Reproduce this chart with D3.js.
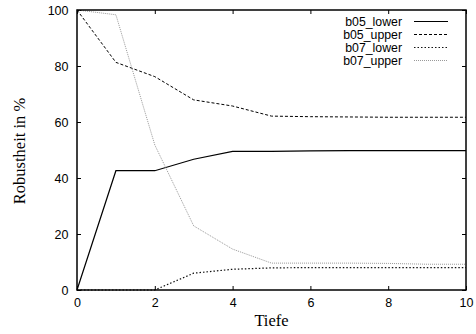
<!DOCTYPE html>
<html>
<head>
<meta charset="utf-8">
<script src="https://cdn.jsdelivr.net/npm/d3@7"></script>
<style>
  html, body { margin: 0; padding: 0; background: #fff; }
  svg { display: block; }
  .tick text { font-family: "Liberation Sans", Arial, sans-serif; font-size: 12.5px; fill: #000; }
  .axis-title { font-family: "Liberation Serif", "Times New Roman", serif; font-size: 16.5px; fill: #000; }
  .legend text { font-family: "Liberation Sans", Arial, sans-serif; font-size: 12.3px; fill: #000; }
</style>
</head>
<body>
<svg id="chart"></svg>
<script>
const depth = [0, 1, 2, 3, 4, 5, 6, 7, 8, 9, 10];
const b05Lower = [0, 42.6, 42.6, 46.7, 49.5, 49.5, 49.7, 49.8, 49.8, 49.8, 49.8];
const b05Upper = [100, 81.3, 76.2, 67.9, 65.7, 62.1, 61.9, 61.8, 61.7, 61.7, 61.7];
const b07Lower = [0, 0, 0, 6.0, 7.4, 7.9, 8.0, 8.0, 8.0, 8.0, 8.0];
const b07Upper = [100, 98.3, 51.8, 22.9, 14.6, 9.6, 9.6, 9.6, 9.5, 9.2, 9.2];
const xTicks = [0, 2, 4, 6, 8, 10];
const yTicks = [0, 20, 40, 60, 80, 100];

const series = [
  {name: 'b05_lower', values: b05Lower, color: '#000', dash: null, width: 1.2},
  {name: 'b05_upper', values: b05Upper, color: '#000', dash: '3,2', width: 1},
  {name: 'b07_lower', values: b07Lower, color: '#111', dash: '1.5,2', width: 1.2},
  {name: 'b07_upper', values: b07Upper, color: '#999', dash: '1,1', width: 1}
];

const width = 476;
const height = 334;
const margin = {top: 10, right: 10, bottom: 44, left: 77};

const svg = d3.select('#chart').attr('width', width).attr('height', height);

const x = d3.scaleLinear().domain([0, 10]).range([margin.left, width - margin.right]);
const y = d3.scaleLinear().domain([0, 100]).range([height - margin.bottom, margin.top]);

// inward ticks on all four sides, labels only bottom/left
svg.append('g')
  .attr('transform', `translate(0,${height - margin.bottom})`)
  .call(d3.axisBottom(x).tickValues(xTicks).tickSize(-4).tickPadding(8))
  .call(g => g.select('.domain').remove());
svg.append('g')
  .attr('transform', `translate(0,${margin.top})`)
  .call(d3.axisTop(x).tickValues(xTicks).tickSize(-4).tickFormat(''))
  .call(g => g.select('.domain').remove());
svg.append('g')
  .attr('transform', `translate(${margin.left},0)`)
  .call(d3.axisLeft(y).tickValues(yTicks).tickSize(-4).tickPadding(8.5))
  .call(g => g.select('.domain').remove());
svg.append('g')
  .attr('transform', `translate(${width - margin.right},0)`)
  .call(d3.axisRight(y).tickValues(yTicks).tickSize(-4).tickFormat(''))
  .call(g => g.select('.domain').remove());

svg.selectAll('.tick line').attr('stroke', '#000').attr('stroke-width', 1);

const line = d3.line()
  .x((d, i) => x(depth[i]))
  .y(d => y(d));

svg.append('g').selectAll('path').data(series).join('path')
  .attr('fill', 'none')
  .attr('stroke', d => d.color)
  .attr('stroke-width', d => d.width)
  .attr('stroke-dasharray', d => d.dash)
  .attr('d', d => line(d.values));

svg.append('rect')
  .attr('x', margin.left).attr('y', margin.top)
  .attr('width', width - margin.left - margin.right)
  .attr('height', height - margin.top - margin.bottom)
  .attr('fill', 'none').attr('stroke', '#000').attr('stroke-width', 1.5);

// legend
const legend = svg.append('g').attr('class', 'legend');
const row = legend.selectAll('g').data(series).join('g')
  .attr('transform', (d, i) => `translate(0,${21.5 + i * 13})`);
row.append('text')
  .attr('x', 402).attr('dy', '0.35em').attr('text-anchor', 'end')
  .text(d => d.name);
row.append('line')
  .attr('x1', 414).attr('x2', 448)
  .attr('stroke', d => d.color)
  .attr('stroke-width', d => d.width)
  .attr('stroke-dasharray', d => d.dash);

svg.append('text').attr('class', 'axis-title')
  .attr('x', (margin.left + width - margin.right) / 2).attr('y', 326)
  .attr('text-anchor', 'middle').text('Tiefe');
svg.append('text').attr('class', 'axis-title')
  .attr('transform', `translate(24.5,${(margin.top + height - margin.bottom) / 2 + 1}) rotate(-90)`)
  .attr('text-anchor', 'middle').text('Robustheit in %');
</script>
</body>
</html>
